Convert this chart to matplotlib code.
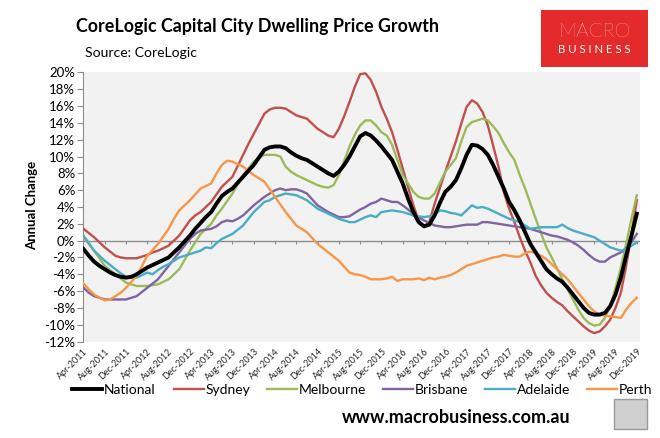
import matplotlib
matplotlib.use("Agg")
import matplotlib.pyplot as plt
from matplotlib.patches import Rectangle
import numpy as np

plt.rcParams['font.family'] = ['Lato', 'DejaVu Sans']

tick_labels = ["Apr-2011", "Aug-2011", "Dec-2011", "Apr-2012", "Aug-2012", "Dec-2012",
               "Apr-2013", "Aug-2013", "Dec-2013", "Apr-2014", "Aug-2014", "Dec-2014",
               "Apr-2015", "Aug-2015", "Dec-2015", "Apr-2016", "Aug-2016", "Dec-2016",
               "Apr-2017", "Aug-2017", "Dec-2017", "Apr-2018", "Aug-2018", "Dec-2018",
               "Apr-2019", "Aug-2019", "Dec-2019"]

national = [-1.0, -1.8, -2.5, -3.0, -3.4, -3.8, -4.1, -4.3, -4.4, -4.3,
            -4.0, -3.6, -3.2, -2.9, -2.6, -2.3, -2.0, -1.4, -0.8, -0.1,
            0.6, 1.4, 2.1, 2.8, 3.4, 4.4, 5.3, 5.8, 6.2, 6.9,
            7.6, 8.3, 9.0, 9.9, 10.8, 11.1, 11.2, 11.2, 11.0, 10.5,
            10.1, 9.8, 9.6, 9.2, 8.8, 8.4, 8.0, 7.7, 8.2, 9.0,
            10.0, 11.2, 12.4, 12.8, 12.5, 11.9, 11.2, 10.4, 9.6, 8.2,
            6.8, 5.0, 3.4, 2.2, 1.7, 1.9, 3.0, 4.5, 5.8, 6.4,
            7.2, 8.6, 10.2, 11.4, 11.3, 10.9, 10.2, 9.0, 7.6, 6.2,
            4.6, 3.6, 2.4, 1.0, -0.4, -1.4, -2.4, -3.4, -4.0, -4.5,
            -4.9, -5.6, -6.4, -7.2, -8.0, -8.6, -8.8, -8.8, -8.6, -7.8,
            -6.4, -4.4, -1.8, 0.6, 3.2]

sydney = [1.4, 0.9, 0.4, -0.2, -0.8, -1.3, -1.8, -2.0, -2.1, -2.1,
          -2.1, -1.9, -1.7, -1.4, -1.2, -0.9, -0.6, 0.0, 0.6, 1.5,
          2.4, 3.0, 3.4, 4.0, 4.6, 5.5, 6.4, 7.0, 7.6, 8.9,
          10.2, 11.5, 12.7, 13.9, 15.1, 15.6, 15.8, 15.8, 15.7, 15.3,
          14.9, 14.7, 14.5, 13.9, 13.3, 12.9, 12.5, 12.3, 13.3, 14.8,
          16.5, 18.3, 19.8, 19.9, 19.1, 17.7, 15.9, 14.5, 12.9, 10.8,
          8.6, 6.4, 4.2, 2.4, 1.7, 2.2, 4.4, 6.3, 8.2, 10.0,
          11.8, 13.9, 15.9, 16.7, 16.3, 15.3, 13.7, 11.3, 8.8, 5.8,
          3.8, 2.2, 0.4, -1.2, -2.6, -4.2, -5.3, -6.2, -6.8, -7.3,
          -7.7, -8.4, -9.0, -9.6, -10.2, -10.7, -11.0, -10.8, -10.2, -9.4,
          -8.0, -6.2, -3.0, 0.8, 4.8]

melbourne = [0.4, -0.4, -1.2, -2.1, -3.0, -3.5, -4.0, -4.5, -5.0, -5.2,
             -5.4, -5.4, -5.4, -5.3, -5.2, -4.9, -4.6, -4.0, -3.4, -2.3,
             -1.2, -0.2, 0.8, 1.4, 2.0, 3.0, 3.8, 4.7, 5.6, 6.7,
             7.8, 8.6, 9.4, 9.9, 10.2, 10.2, 10.2, 10.0, 8.8, 8.2,
             7.8, 7.5, 7.2, 6.9, 6.6, 6.4, 6.3, 6.6, 7.8, 9.5,
             11.2, 12.6, 13.7, 14.3, 14.3, 13.7, 12.9, 12.5, 11.4, 9.6,
             7.8, 6.8, 5.8, 5.2, 5.0, 5.0, 5.6, 6.9, 8.2, 9.0,
             9.8, 11.8, 13.5, 14.1, 14.3, 14.5, 14.3, 13.6, 12.8, 11.6,
             10.5, 9.6, 7.8, 6.2, 4.4, 2.6, 0.9, -0.8, -2.0, -3.3,
             -4.6, -5.8, -7.0, -8.2, -9.2, -9.8, -10.1, -10.0, -9.2, -7.8,
             -5.6, -3.2, -0.4, 2.6, 5.4]

brisbane = [-5.6, -6.2, -6.6, -6.8, -7.0, -7.0, -7.0, -7.0, -7.0, -6.8,
            -6.6, -6.1, -5.6, -5.1, -4.6, -3.8, -3.0, -2.2, -1.4, -0.6,
            0.2, 0.8, 1.2, 1.3, 1.4, 1.7, 2.2, 2.4, 2.3, 2.6,
            3.0, 3.6, 4.2, 4.7, 5.2, 5.6, 6.0, 6.2, 6.0, 6.1,
            6.1, 5.9, 5.6, 4.9, 4.2, 3.8, 3.4, 3.1, 2.8, 2.8,
            2.9, 3.3, 3.7, 4.0, 4.4, 4.6, 5.0, 4.8, 4.6, 4.6,
            4.2, 3.7, 3.2, 2.8, 2.4, 2.1, 1.8, 1.7, 1.6, 1.6,
            1.7, 1.8, 1.9, 1.9, 1.9, 2.2, 2.2, 2.1, 2.0, 1.9,
            1.8, 1.7, 1.6, 1.5, 1.4, 1.2, 1.0, 0.8, 0.6, 0.5,
            0.3, 0.1, -0.2, -0.6, -1.1, -1.7, -2.2, -2.5, -2.5, -2.0,
            -1.7, -1.4, -0.9, -0.2, 0.8]

adelaide = [0.6, -0.3, -1.2, -1.8, -2.4, -2.9, -3.4, -3.9, -4.3, -4.4,
            -4.4, -4.1, -3.8, -4.0, -3.5, -3.1, -2.8, -2.4, -2.0, -1.8,
            -1.6, -1.4, -1.2, -0.8, -0.9, -0.3, 0.2, 0.5, 0.8, 1.3,
            1.8, 2.6, 3.4, 4.0, 4.6, 4.8, 5.2, 5.4, 5.6, 5.5,
            5.4, 5.1, 4.8, 4.3, 3.8, 3.5, 3.2, 2.9, 2.6, 2.4,
            2.2, 2.2, 2.5, 2.8, 3.0, 2.8, 3.4, 3.5, 3.6, 3.5,
            3.4, 3.2, 3.0, 2.9, 2.8, 2.9, 3.1, 3.6, 3.5, 3.3,
            3.2, 3.0, 3.6, 4.2, 3.9, 4.0, 3.8, 3.5, 3.2, 2.9,
            2.6, 2.4, 2.2, 1.8, 1.4, 1.5, 1.6, 1.6, 1.6, 1.6,
            1.9, 1.5, 1.2, 1.0, 0.8, 0.6, 0.4, 0.0, -0.4, -0.8,
            -1.0, -1.2, -1.0, -0.6, -0.2]

perth = [-5.1, -5.8, -6.4, -6.8, -7.1, -7.0, -6.6, -6.2, -5.6, -4.9,
         -4.2, -3.0, -1.8, -1.1, -0.4, 0.5, 1.4, 2.6, 3.6, 4.2,
         4.8, 5.5, 6.2, 6.5, 6.8, 8.0, 9.0, 9.5, 9.4, 9.1,
         8.8, 8.3, 7.8, 7.4, 7.0, 6.1, 5.2, 4.3, 3.4, 2.6,
         1.8, 1.4, 1.0, 0.3, -0.4, -0.9, -1.4, -1.9, -2.4, -3.1,
         -3.8, -4.0, -4.1, -4.3, -4.6, -4.6, -4.6, -4.5, -4.3, -4.8,
         -4.6, -4.6, -4.6, -4.5, -4.7, -4.4, -4.6, -4.4, -4.3, -4.1,
         -3.8, -3.4, -3.0, -2.8, -2.6, -2.4, -2.2, -2.0, -1.9, -1.7,
         -1.8, -1.9, -1.9, -1.5, -1.3, -1.5, -1.8, -2.2, -2.8, -3.4,
         -4.0, -4.6, -5.4, -6.2, -7.0, -7.8, -8.4, -8.8, -8.9, -9.0,
         -9.1, -9.2, -8.2, -7.4, -6.8]

series = [("National", national, "#000000", 2.8),
          ("Sydney", sydney, "#c0504d", 1.7),
          ("Melbourne", melbourne, "#9bbb59", 1.7),
          ("Brisbane", brisbane, "#8064a2", 1.7),
          ("Adelaide", adelaide, "#4bacc6", 1.7),
          ("Perth", perth, "#f79646", 1.7)]

fig = plt.figure(figsize=(6.6, 4.38), dpi=100)
fig.patch.set_facecolor("white")
ax = fig.add_axes([0.1265, 0.2203, 0.8432, 0.6142])
ax.set_facecolor("#f2f2f2")

months = np.arange(len(national))
ax.axhline(0, color="#8c8c8c", lw=1.0, zorder=1)
tick_pos = np.arange(0, len(national), 4)
ax.vlines(tick_pos, -0.4, 0, color="#8c8c8c", lw=0.8, zorder=1)

order = [1, 2, 3, 4, 5, 0]
handles = {}
for i in order:
    name, vals, col, lw = series[i]
    h, = ax.plot(months, vals, color=col, lw=lw, label=name,
                 zorder=4 if i == 0 else 3, solid_joinstyle="round")
    handles[name] = h

ax.set_xlim(0, 104.6)
ax.set_ylim(-12, 20)
yt = np.arange(-12, 21, 2)
ax.set_yticks(yt)
ax.set_yticklabels([f"{v}%" for v in yt], fontsize=9.5)
ax.set_xticks(tick_pos)
ax.set_xticklabels(tick_labels, rotation=45, ha="right", rotation_mode="anchor",
                   fontsize=6.5, color="#262626")
ax.tick_params(axis="x", length=0, pad=4)
ax.tick_params(axis="y", length=4, color="#8c8c8c", width=0.8, pad=2)
for s in ["top", "right", "bottom"]:
    ax.spines[s].set_visible(False)
ax.spines["left"].set_color("#8c8c8c")
ax.spines["left"].set_linewidth(0.8)

fig.text(0.0485, 0.532, "Annual Change", rotation=90, ha="center", va="center",
         fontsize=9.5, fontweight="bold")

# legend: one entry per legend box, placed where each entry sits in the reference
legend_x = [72, 174, 267, 383, 485, 587]
for (name, _, _, _), lx in zip(series, legend_x):
    fig.legend([handles[name]], [name], loc="center left",
               bbox_to_anchor=(lx / 660, 0.1096), borderpad=0, borderaxespad=0,
               frameon=False, fontsize=10, handlelength=2.16, handletextpad=0.12)

fig.text(0.115, 0.939, "CoreLogic Capital City Dwelling Price Growth", fontsize=12.9,
         fontweight="bold", ha="left", va="center")
fig.text(0.1288, 0.879, "Source: CoreLogic", fontsize=10.1, ha="left", va="center")

fig.patches.append(Rectangle((0.8197, 0.847), 0.162, 0.130, transform=fig.transFigure,
                             facecolor="#e42a2a", edgecolor="none"))
fig.text(0.9008, 0.927, "MACRO", color="white", fontsize=14.5, ha="center", va="center",
         fontweight="light")
fig.text(0.9008, 0.888, "B U S I N E S S", color="white", fontsize=8.2, ha="center",
         va="center")

fig.text(0.8636, 0.0457, "www.macrobusiness.com.au", fontsize=13, fontweight="bold",
         ha="right", va="center")
fig.patches.append(Rectangle((0.930, 0.0205), 0.050, 0.0685, transform=fig.transFigure,
                             facecolor="#cfcfcf", edgecolor="#9a9a9a", lw=1))

fig.savefig("out.png", dpi=100)
